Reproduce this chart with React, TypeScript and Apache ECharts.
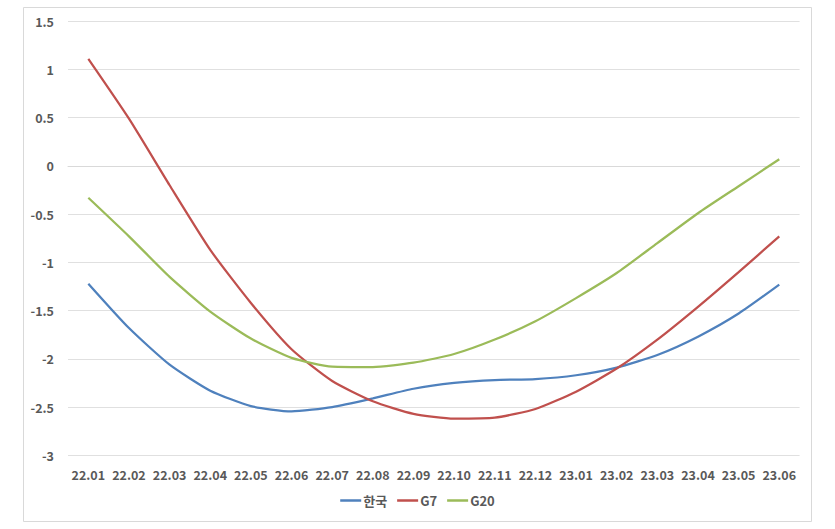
import React, { useEffect, useRef } from "react";
import * as echarts from "echarts";

const categories = ["22.01","22.02","22.03","22.04","22.05","22.06","22.07","22.08","22.09","22.10","22.11","22.12","23.01","23.02","23.03","23.04","23.05","23.06"];
const korea = [-1.22,-1.68,-2.06,-2.33,-2.49,-2.545,-2.50,-2.41,-2.31,-2.25,-2.22,-2.21,-2.17,-2.09,-1.96,-1.77,-1.53,-1.23];
const g7 = [1.11,0.49,-0.2,-0.87,-1.42,-1.90,-2.23,-2.44,-2.57,-2.62,-2.61,-2.52,-2.34,-2.10,-1.80,-1.46,-1.10,-0.73];
const g20 = [-0.33,-0.73,-1.15,-1.51,-1.79,-1.99,-2.08,-2.085,-2.04,-1.95,-1.80,-1.61,-1.37,-1.11,-0.80,-0.49,-0.21,0.07];
const seriesNames = ["한국", "G7", "G20"];
const colors = ["#4F81BD", "#C0504D", "#9BBB59"];

const FONT = "'Noto Sans CJK KR', 'Noto Sans', sans-serif";

export default function App() {
  const ref = useRef<HTMLDivElement>(null);
  useEffect(() => {
    if (!ref.current) return;
    const chart = echarts.init(ref.current, undefined, { renderer: "svg" });
    const data = [korea, g7, g20];
    chart.setOption({
      animation: false,
      backgroundColor: "#ffffff",
      graphic: [
        {
          type: "rect",
          shape: { x: 23.5, y: 7.5, width: 788, height: 514 },
          style: { fill: "none", stroke: "#D9D9D9", lineWidth: 1 },
          silent: true,
        },
      ],
      grid: { left: 68, right: 35.4, top: 21.3, bottom: 73.7, containLabel: false },
      legend: {
        bottom: 17,
        left: "center",
        itemWidth: 21,
        itemHeight: 2.5,
        itemGap: 10,
        icon: "rect",
        textStyle: { color: "#595959", fontSize: 13, fontFamily: FONT, fontWeight: "bold", padding: [0, 0, 0, -3] },
        data: seriesNames,
      },
      xAxis: {
        type: "category",
        data: categories,
        boundaryGap: true,
        axisLine: { show: true, lineStyle: { color: "#D9D9D9" } },
        axisTick: { show: false },
        axisLabel: { color: "#595959", fontSize: 12.5, fontFamily: FONT, fontWeight: "bold", margin: 13, interval: 0 },
      },
      yAxis: {
        type: "value",
        min: -3,
        max: 1.5,
        interval: 0.5,
        axisLine: { show: false },
        axisTick: { show: false },
        splitLine: { lineStyle: { color: "#E0E0E0", width: 1 } },
        axisLabel: { color: "#595959", fontSize: 12.5, fontFamily: FONT, fontWeight: "bold", margin: 14 },
      },
      series: seriesNames.map((name, i) => ({
        name,
        type: "line",
        data: data[i],
        smooth: 0.2,
        symbol: "none",
        lineStyle: { color: colors[i], width: 2.25 },
        itemStyle: { color: colors[i] },
      })),
    });
    return () => chart.dispose();
  }, []);
  return (
    <div
      ref={ref}
      style={{ position: "fixed", left: 0, top: 0, width: 835, height: 529 }}
    />
  );
}
